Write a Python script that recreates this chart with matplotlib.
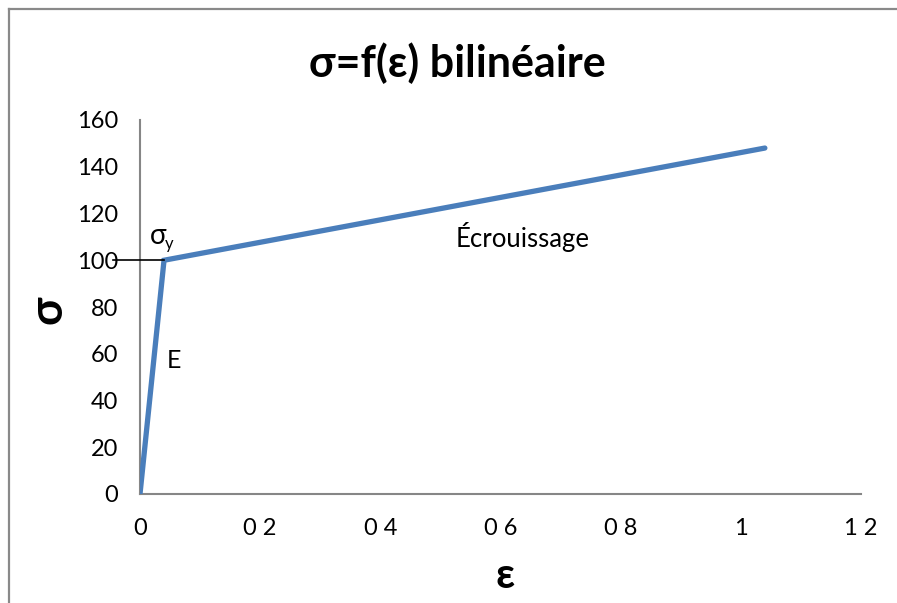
import matplotlib
matplotlib.use('Agg')
import matplotlib.pyplot as plt
from matplotlib.lines import Line2D

# bilinear stress-strain law: elastic branch then hardening branch
strain = [0, 0.04, 1.04]
stress = [0, 100, 148]
sigma_y = 100
eps_y = 0.04

x_ticks = [0, 0.2, 0.4, 0.6, 0.8, 1.0, 1.2]
x_ticklabels = ['0', '0 2', '0 4', '0 6', '0 8', '1', '1 2']
y_ticks = [0, 20, 40, 60, 80, 100, 120, 140, 160]

fonts = ['Lato', 'DejaVu Sans']
plt.rcParams['font.family'] = fonts

fig = plt.figure(figsize=(8.97, 6.03), dpi=100)
fig.patch.set_facecolor('white')
ax = fig.add_axes([140 / 897, 1 - 494 / 603, 721 / 897, 374 / 603])

ax.plot(strain, stress, color='#4a7ebb', linewidth=3.8, solid_capstyle='round',
        solid_joinstyle='miter', zorder=3)
# marker line for the yield stress, running across the axis
ax.plot([-0.045, eps_y], [sigma_y, sigma_y], color='black', linewidth=1.2,
        clip_on=False, zorder=4)

ax.set_xlim(0, 1.2)
ax.set_ylim(0, 160)
ax.set_xticks(x_ticks)
ax.set_xticklabels(x_ticklabels)
ax.set_yticks(y_ticks)
ax.tick_params(length=0, labelsize=17, colors='black')
ax.tick_params(axis='x', pad=17)
ax.tick_params(axis='y', pad=16)

for side in ['top', 'right']:
    ax.spines[side].set_visible(False)
for side in ['left', 'bottom']:
    ax.spines[side].set_color('#868686')
    ax.spines[side].set_linewidth(1.5)

# yield stress label: sigma with a subscript y
ax.text(0.016, 105, 'σ', fontsize=20, ha='left', va='bottom')
ax.text(0.042, 103.5, 'y', fontsize=12, ha='left', va='bottom')
ax.text(0.045, 57, 'E', fontsize=18, ha='left', va='center')
ax.text(0.525, 110, 'Écrouissage', fontsize=18.5, ha='left', va='center')

fig.text(457 / 897, 1 - 63 / 603, 'σ=f(ε) bilinéaire', fontsize=31, fontweight='bold',
         ha='center', va='center')
fig.text(48 / 897, 1 - 310 / 603, 'σ', fontsize=33, fontweight='bold', rotation=90,
         ha='center', va='center')
fig.text(505 / 897, 1 - 576 / 603, 'ε', fontsize=30, fontweight='bold',
         ha='center', va='center')

# chart frame (only its top and left edges fall inside the image)
fig.add_artist(Line2D([8.5 / 897, 8.5 / 897], [0, 1 - 9 / 603], color='#898989',
                      linewidth=1.6, transform=fig.transFigure))
fig.add_artist(Line2D([8.5 / 897, 1], [1 - 9 / 603, 1 - 9 / 603], color='#898989',
                      linewidth=1.6, transform=fig.transFigure))

fig.savefig('out.png', dpi=100)
